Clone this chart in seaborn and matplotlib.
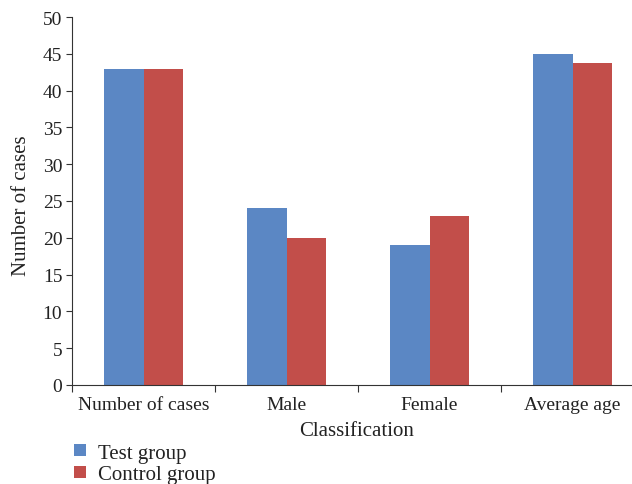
import matplotlib
matplotlib.use("Agg")
import matplotlib.pyplot as plt
import seaborn as sns
import pandas as pd
import numpy as np
from matplotlib.lines import Line2D

categories = ["Number of cases", "Male", "Female", "Average age"]
groups = ["Test group", "Control group"]
test_values = [43, 24, 19, 45]
control_values = [43, 20, 23, 43.8]
colors = ["#5B87C4", "#C24E4A"]

df = pd.DataFrame({
    "Classification": categories * 2,
    "Group": [groups[0]] * 4 + [groups[1]] * 4,
    "Value": test_values + control_values,
})

sns.set_theme(style="white")
plt.rcParams["font.family"] = ["Liberation Serif", "DejaVu Serif"]

fig = plt.figure(figsize=(6.32, 4.85), dpi=100)
ax = fig.add_axes([72 / 632, 99 / 485, 572 / 632, 368 / 485])

sns.barplot(data=df, x="Classification", y="Value", hue="Group",
            palette=colors, width=0.55, ax=ax, legend=False,
            saturation=1, linewidth=0)

ax.set_xlim(-0.5, 3.5)
ax.set_ylim(0, 50)
ax.set_yticks(np.arange(0, 51, 5))
ax.tick_params(axis="y", labelsize=14, length=4, width=0.8, color="#333333",
               direction="out", left=True, pad=3, labelcolor="#222222")
ax.set_xticks(range(4))
ax.set_xticklabels(categories)
ax.tick_params(axis="x", which="major", length=0, labelsize=14, pad=8,
               labelcolor="#222222")
ax.set_xticks([-0.5, 0.5, 1.5, 2.5, 3.5], minor=True)
ax.tick_params(axis="x", which="minor", length=5, width=0.8, color="#333333",
               direction="out", bottom=True)

for s in ["top", "right"]:
    ax.spines[s].set_visible(False)
for s in ["left", "bottom"]:
    ax.spines[s].set_color("#333333")
    ax.spines[s].set_linewidth(0.8)

ax.set_xlabel("Classification", fontsize=15, color="#222222", va="center")
ax.xaxis.set_label_coords((357 - 72) / 572, -(432 - 386) / 368)
ax.set_ylabel("Number of cases", fontsize=15, color="#222222", va="center")
ax.yaxis.set_label_coords(-(72 - 22) / 572, (386 - 206) / 368)

handles = [Line2D([0], [0], marker="s", linestyle="", markersize=8,
                  markerfacecolor=c, markeredgewidth=0) for c in colors]
fig.legend(handles, groups, loc="upper left", bbox_to_anchor=(72 / 632, 1 - 444 / 485),
           frameon=False, fontsize=15, handletextpad=0.45, labelspacing=0.1,
           handlelength=0.8, borderpad=0, borderaxespad=0, labelcolor="#222222")

fig.savefig("out.png", dpi=100)
